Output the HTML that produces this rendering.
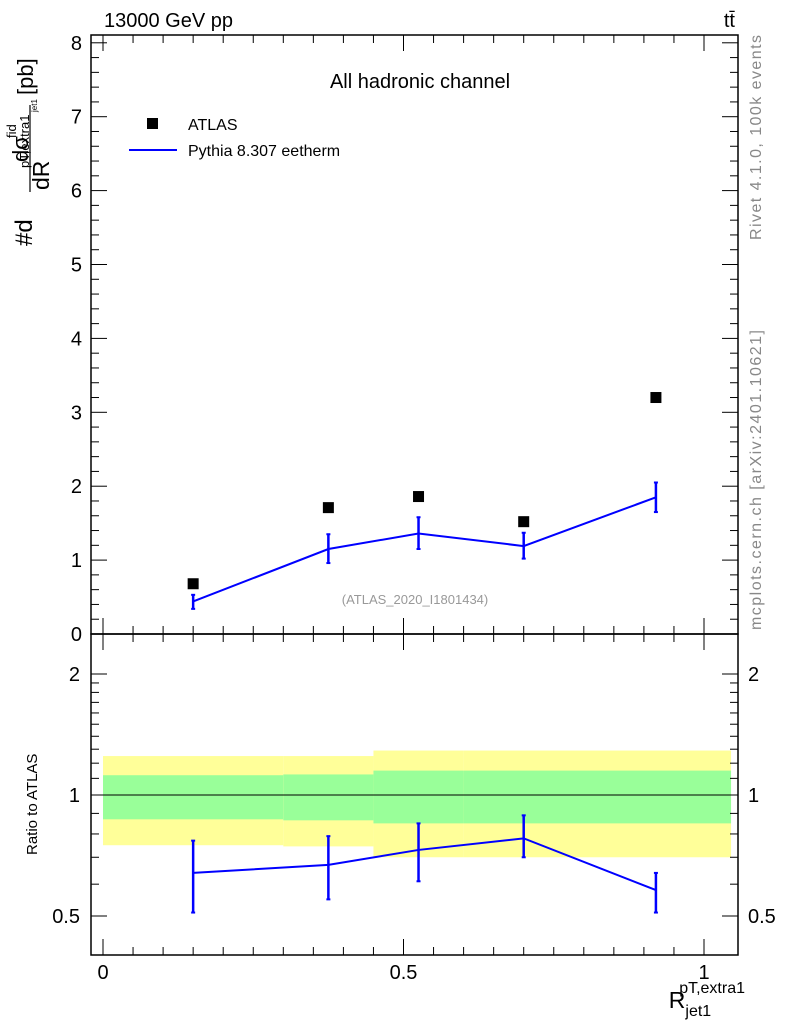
<!DOCTYPE html>
<html><head><meta charset="utf-8"><style>
html,body{margin:0;padding:0;background:#fff;}
svg{display:block;font-family:"Liberation Sans",Arial,sans-serif;}
</style></head><body>
<svg id="chart" width="786" height="1024" viewBox="0 0 786 1024">
<g id="bands"></g>
<g id="ticks"></g>
<rect x="91" y="35" width="647" height="599" fill="none" stroke="#000" stroke-width="1.5"/>
<rect x="91" y="634" width="647" height="321" fill="none" stroke="#000" stroke-width="1.5"/>
<g id="series"></g>
<text x="104" y="27" font-size="20">13000 GeV pp</text>
<text x="735" y="27" font-size="20" text-anchor="end">tt̄</text>
<text x="420" y="88" font-size="20" text-anchor="middle">All hadronic channel</text>
<rect x="147" y="118" width="11" height="11" fill="#000"/>
<text x="188" y="130" font-size="16">ATLAS</text>
<line x1="129" y1="150" x2="177" y2="150" stroke="#0000ff" stroke-width="2"/>
<text x="188" y="156" font-size="16">Pythia 8.307 eetherm</text>
<text x="415" y="604" font-size="13" fill="#999" text-anchor="middle">(ATLAS_2020_I1801434)</text>
<text transform="translate(761,240) rotate(-90)" font-size="16" fill="#888" textLength="205">Rivet 4.1.0,  100k events</text>
<text transform="translate(761,630) rotate(-90)" font-size="16" fill="#888" textLength="300">mcplots.cern.ch [arXiv:2401.10621]</text>
<g transform="rotate(-90)">
<text x="-246" y="32" font-size="24">#d</text>
<line x1="-192" y1="30" x2="-105" y2="30" stroke="#000" stroke-width="1.2"/>
<text x="-190" y="49" font-size="23">dR</text>
<text x="-162" y="28" font-size="22">dσ</text>
<text x="-138" y="16" font-size="13">fid</text>
<text x="-168" y="29" font-size="13">pT,extra1</text>
<text x="-112" y="37" font-size="8">jet1</text>
<text x="-95" y="33" font-size="22">[pb]</text>
</g>
<text transform="translate(37,855) rotate(-90)" font-size="15">Ratio to ATLAS</text>
<text x="745" y="1008" font-size="23" text-anchor="end">R<tspan font-size="16" dy="8">jet1</tspan><tspan font-size="16" dx="-32" dy="-23">pT,extra1</tspan></text>
</svg>
<script>
const xCenters=[0.15,0.375,0.525,0.7,0.92];
const atlasVals=[0.68,1.71,1.86,1.52,3.2];
const mcVals=[0.44,1.15,1.36,1.19,1.85];
const mcLo=[0.34,0.96,1.15,1.02,1.65];
const mcHi=[0.53,1.35,1.58,1.37,2.05];
const ratioVals=[0.64,0.67,0.73,0.78,0.58];
const ratioLo=[0.51,0.55,0.61,0.70,0.51];
const ratioHi=[0.77,0.79,0.85,0.89,0.64];
const bandEdges=[0,0.3,0.45,0.6,1.045];
const yellowLo=[0.75,0.745,0.70,0.70];
const yellowHi=[1.25,1.25,1.29,1.29];
const greenLo=[0.87,0.865,0.85,0.85];
const greenHi=[1.12,1.125,1.15,1.15];
const mainTicks=[0,1,2,3,4,5,6,7,8];
const ratioTicks=[0.5,1,2];
const xTicks=[0,0.5,1];
const NS='http://www.w3.org/2000/svg';
const X=v=>103+v*601;
const Y=v=>634-v*73.9;
const R=v=>795-121*Math.log2(v);
function mk(t,a,p){const e=document.createElementNS(NS,t);for(const k in a)e.setAttribute(k,a[k]);p.appendChild(e);return e;}
const bands=document.getElementById('bands'),ticks=document.getElementById('ticks'),series=document.getElementById('series');
for(let i=0;i<bandEdges.length-1;i++){
 const y=mk('rect',{x:X(bandEdges[i]),width:X(bandEdges[i+1])-X(bandEdges[i]),y:R(yellowHi[i]),height:R(yellowLo[i])-R(yellowHi[i]),fill:'#ffff99'},bands);
 
 
 const g=mk('rect',{x:X(bandEdges[i]),width:X(bandEdges[i+1])-X(bandEdges[i]),y:R(greenHi[i]),height:R(greenLo[i])-R(greenHi[i]),fill:'#99ff99'},bands);
 
 
}
const one=mk('line',{x1:91,x2:738,y1:R(1),y2:R(1),stroke:'#000','stroke-width':1},bands);


for(let v=0;v<=8.001;v+=0.2){const maj=Math.abs(v-Math.round(v))<1e-6;const L=maj?16:8;
 mk('line',{x1:91,x2:91+L,y1:Y(v),y2:Y(v),stroke:'#000'},ticks);mk('line',{x1:738,x2:738-L,y1:Y(v),y2:Y(v),stroke:'#000'},ticks);}
mainTicks.forEach(v=>{const t=mk('text',{x:82,y:Y(v)+7,'font-size':20,'text-anchor':'end'},ticks);t.textContent=v;
 
 });
[0.5,0.6,0.7,0.8,0.9,1,1.1,1.2,1.3,1.4,1.5,1.6,1.7,1.8,1.9,2].forEach(v=>{const maj=ratioTicks.includes(v);const L=maj?16:8;
 mk('line',{x1:91,x2:91+L,y1:R(v),y2:R(v),stroke:'#000'},ticks);mk('line',{x1:738,x2:738-L,y1:R(v),y2:R(v),stroke:'#000'},ticks);});
ratioTicks.forEach(v=>{const t=mk('text',{x:80,y:R(v)+7,'font-size':20,'text-anchor':'end'},ticks);t.textContent=v;
 
 
 const t2=mk('text',{x:748,y:R(v)+7,'font-size':20},ticks);t2.textContent=v;
 
 });
for(let v=0;v<=1.05;v+=0.05){const maj=Math.abs(v*2-Math.round(v*2))<1e-6;const L=maj?16:8;
 mk('line',{x1:X(v),x2:X(v),y1:35,y2:35+L,stroke:'#000'},ticks);mk('line',{x1:X(v),x2:X(v),y1:634,y2:634-L,stroke:'#000'},ticks);
 mk('line',{x1:X(v),x2:X(v),y1:634,y2:634+L,stroke:'#000'},ticks);mk('line',{x1:X(v),x2:X(v),y1:955,y2:955-L,stroke:'#000'},ticks);}
xTicks.forEach(v=>{const t=mk('text',{x:X(v),y:979,'font-size':20,'text-anchor':'middle'},ticks);t.textContent=v;
 
 });
const mcLine=mk('polyline',{points:xCenters.map((x,i)=>X(x)+','+Y(mcVals[i])).join(' '),fill:'none',stroke:'#0000ff','stroke-width':2},series);


const rLine=mk('polyline',{points:xCenters.map((x,i)=>X(x)+','+R(ratioVals[i])).join(' '),fill:'none',stroke:'#0000ff','stroke-width':2},series);


xCenters.forEach((x,i)=>{
 const e=mk('line',{x1:X(x),x2:X(x),y1:Y(mcLo[i]),y2:Y(mcHi[i]),stroke:'#0000ff','stroke-width':2.5},series);
 
 
 mk('line',{x1:X(x)-2,x2:X(x)+2,y1:Y(mcLo[i]),y2:Y(mcLo[i]),stroke:'#0000ff','stroke-width':2},series);
 mk('line',{x1:X(x)-2,x2:X(x)+2,y1:Y(mcHi[i]),y2:Y(mcHi[i]),stroke:'#0000ff','stroke-width':2},series);
 const r=mk('line',{x1:X(x),x2:X(x),y1:R(ratioLo[i]),y2:R(ratioHi[i]),stroke:'#0000ff','stroke-width':2.5},series);
 
 
 mk('line',{x1:X(x)-2,x2:X(x)+2,y1:R(ratioLo[i]),y2:R(ratioLo[i]),stroke:'#0000ff','stroke-width':2},series);
 mk('line',{x1:X(x)-2,x2:X(x)+2,y1:R(ratioHi[i]),y2:R(ratioHi[i]),stroke:'#0000ff','stroke-width':2},series);
 const p=mk('rect',{x:X(x)-5.5,y:Y(atlasVals[i])-5.5,width:11,height:11,fill:'#000'},series);
 
 
});
</script>
</body></html>
